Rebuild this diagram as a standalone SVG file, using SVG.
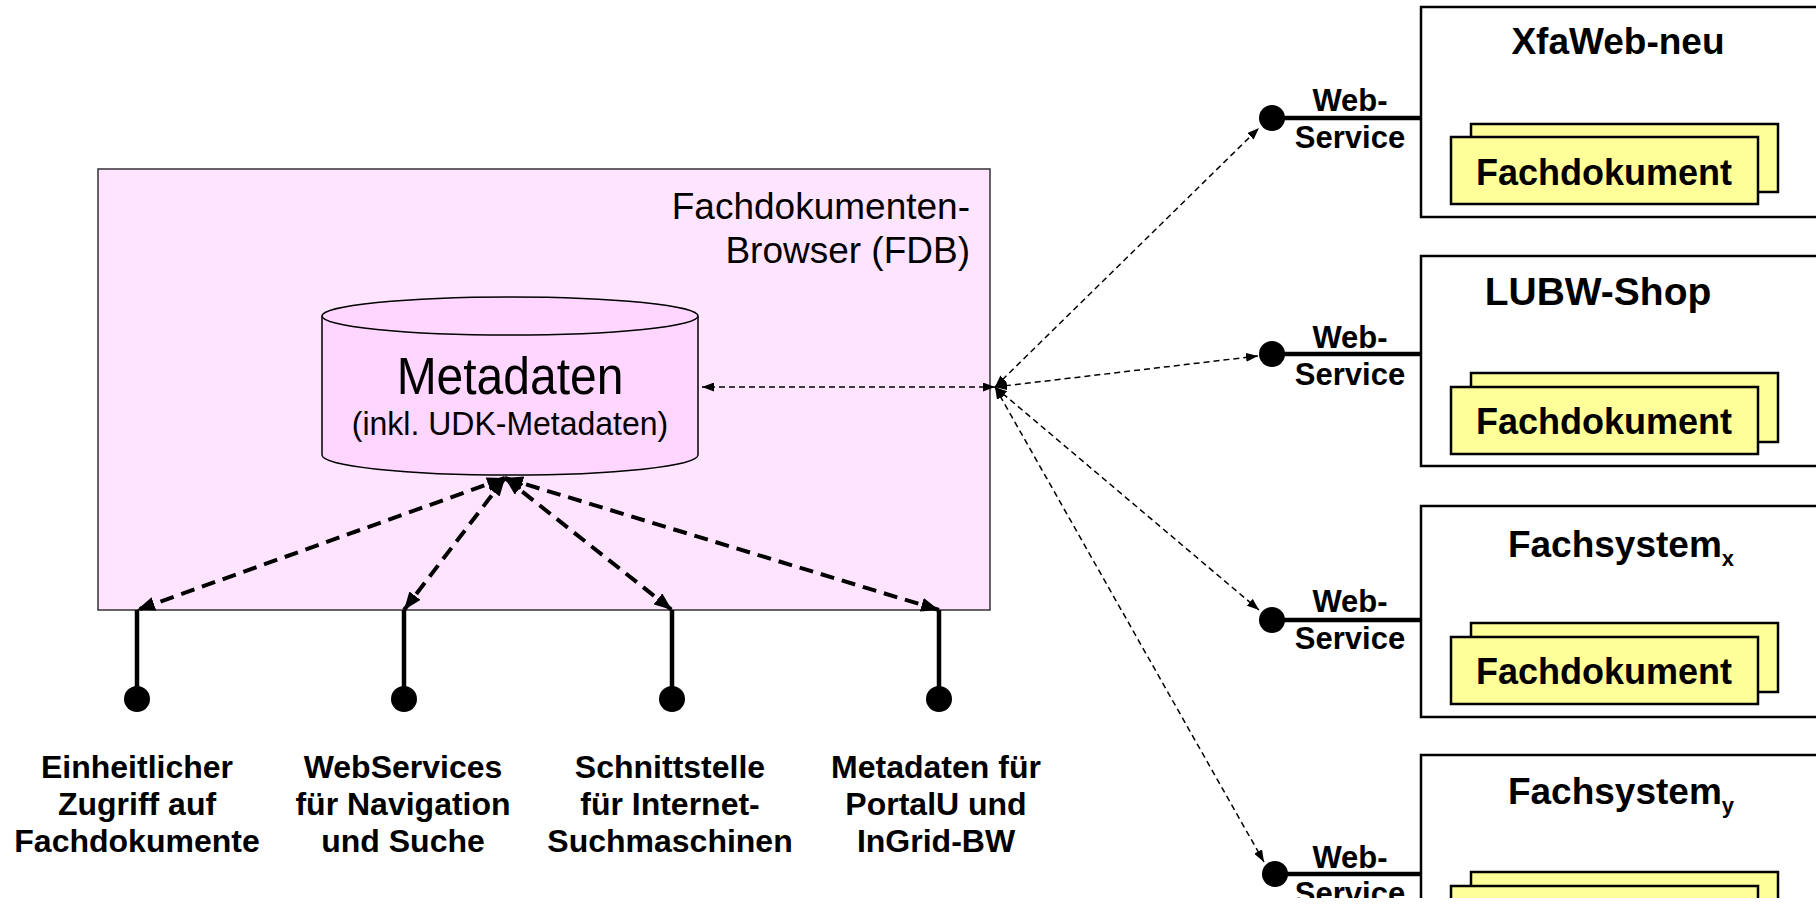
<svg xmlns="http://www.w3.org/2000/svg" width="1816" height="908" viewBox="0 0 1816 908">
<defs>
<style>
.t{font-family:"Liberation Sans",Arial,sans-serif;fill:#000}
.b{font-weight:bold}
.sys{fill:#fff;stroke:#000;stroke-width:2.5}
.doc{fill:#ffff99;stroke:#000;stroke-width:2.5}
.ws{stroke:#000;stroke-width:4.5;fill:none}
.thin{stroke:#000;stroke-width:1.5;stroke-dasharray:6 4;fill:none}
.bold{stroke:#000;stroke-width:4;stroke-dasharray:14 8;fill:none}
</style>
<marker id="ah" markerUnits="userSpaceOnUse" viewBox="0 0 12 9" refX="12" refY="4.5" markerWidth="12" markerHeight="9" orient="auto-start-reverse"><path d="M0,0 L12,4.5 L0,9 z" fill="#000"/></marker>
<marker id="ahb" markerUnits="userSpaceOnUse" viewBox="0 0 18 14" refX="18" refY="7" markerWidth="18" markerHeight="14" orient="auto-start-reverse"><path d="M0,0 L18,7 L0,14 z" fill="#000"/></marker>
<clipPath id="clip"><rect x="0" y="0" width="1816" height="898"/></clipPath>
</defs>
<rect x="0" y="0" width="1816" height="908" fill="#fff"/>
<g clip-path="url(#clip)">
<g id="fdb">
<rect x="98" y="169" width="892" height="441" fill="#ffe4ff" stroke="#333" stroke-width="1.5"/>
<text class="t" x="970" y="219" font-size="37" text-anchor="end">Fachdokumenten-</text>
<text class="t" x="970" y="263" font-size="37" text-anchor="end">Browser (FDB)</text>
</g>
<g id="metadaten">
<path d="M322,316 L322,455 A188,20 0 0 0 698,455 L698,316" fill="#ffd6ff" stroke="#000" stroke-width="1.5"/>
<ellipse cx="510" cy="316" rx="188" ry="19" fill="#ffd6ff" stroke="#000" stroke-width="1.5"/>
<text class="t" transform="translate(510,394) scale(1,1.08)" x="0" y="0" font-size="48" text-anchor="middle">Metadaten</text>
<text class="t" transform="translate(510,435) scale(1,1.05)" x="0" y="0" font-size="32" text-anchor="middle">(inkl. UDK-Metadaten)</text>
</g>
<g id="if1"><line class="ws" x1="137" y1="610" x2="137" y2="699"/><circle cx="137" cy="699" r="13"/>
<text class="t b" font-size="32" text-anchor="middle"><tspan x="137" y="778">Einheitlicher</tspan><tspan x="137" y="815">Zugriff auf</tspan><tspan x="137" y="852">Fachdokumente</tspan></text></g>
<g id="if2"><line class="ws" x1="404" y1="610" x2="404" y2="699"/><circle cx="404" cy="699" r="13"/>
<text class="t b" font-size="32" text-anchor="middle"><tspan x="403" y="778">WebServices</tspan><tspan x="403" y="815">für Navigation</tspan><tspan x="403" y="852">und Suche</tspan></text></g>
<g id="if3"><line class="ws" x1="672" y1="610" x2="672" y2="699"/><circle cx="672" cy="699" r="13"/>
<text class="t b" font-size="32" text-anchor="middle"><tspan x="670" y="778">Schnittstelle</tspan><tspan x="670" y="815">für Internet-</tspan><tspan x="670" y="852">Suchmaschinen</tspan></text></g>
<g id="if4"><line class="ws" x1="939" y1="610" x2="939" y2="699"/><circle cx="939" cy="699" r="13"/>
<text class="t b" font-size="32" text-anchor="middle"><tspan x="936" y="778">Metadaten für</tspan><tspan x="936" y="815">PortalU und</tspan><tspan x="936" y="852">InGrid-BW</tspan></text></g>

<g id="sys1">
<rect class="sys" x="1421" y="7" width="420" height="210"/>
<text class="t b" x="1618" y="54" font-size="37" text-anchor="middle">XfaWeb-neu</text>
<rect class="doc" x="1471" y="124" width="307" height="68"/>
<rect class="doc" x="1451" y="137" width="307" height="67"/>
<text class="t b" x="1604" y="185" font-size="36" text-anchor="middle">Fachdokument</text>
<line class="ws" x1="1272" y1="118" x2="1421" y2="118"/><circle cx="1272" cy="118" r="13"/>
<text class="t b" x="1350" y="111" font-size="31" text-anchor="middle">Web-</text>
<text class="t b" x="1350" y="148" font-size="31" text-anchor="middle">Service</text>
</g>
<g id="sys2">
<rect class="sys" x="1421" y="256" width="420" height="210"/>
<text class="t b" x="1598" y="305" font-size="39" text-anchor="middle">LUBW-Shop</text>
<rect class="doc" x="1471" y="373" width="307" height="69"/>
<rect class="doc" x="1451" y="387" width="307" height="67"/>
<text class="t b" x="1604" y="434" font-size="36" text-anchor="middle">Fachdokument</text>
<line class="ws" x1="1272" y1="354" x2="1421" y2="354"/><circle cx="1272" cy="354" r="13"/>
<text class="t b" x="1350" y="348" font-size="31" text-anchor="middle">Web-</text>
<text class="t b" x="1350" y="385" font-size="31" text-anchor="middle">Service</text>
</g>
<g id="sys3">
<rect class="sys" x="1421" y="506" width="420" height="211"/>
<text class="t b" x="1621" y="557" font-size="37" text-anchor="middle">Fachsystem<tspan font-size="22" dy="9">x</tspan></text>
<rect class="doc" x="1471" y="623" width="307" height="69"/>
<rect class="doc" x="1451" y="637" width="307" height="67"/>
<text class="t b" x="1604" y="684" font-size="36" text-anchor="middle">Fachdokument</text>
<line class="ws" x1="1272" y1="620" x2="1421" y2="620"/><circle cx="1272" cy="620" r="13"/>
<text class="t b" x="1350" y="612" font-size="31" text-anchor="middle">Web-</text>
<text class="t b" x="1350" y="649" font-size="31" text-anchor="middle">Service</text>
</g>
<g id="sys4">
<rect class="sys" x="1421" y="755" width="420" height="210"/>
<text class="t b" x="1621" y="804" font-size="37" text-anchor="middle">Fachsystem<tspan font-size="22" dy="9">y</tspan></text>
<rect class="doc" x="1471" y="872" width="307" height="69"/>
<rect class="doc" x="1451" y="886" width="307" height="67"/>
<line class="ws" x1="1275" y1="874" x2="1421" y2="874"/><circle cx="1275" cy="874" r="13"/>
<text class="t b" x="1350" y="868" font-size="31" text-anchor="middle">Web-</text>
<text class="t b" x="1350" y="904" font-size="31" text-anchor="middle">Service</text>
</g>

<g id="connectors">
<line class="thin" x1="995" y1="387" x2="702" y2="387" marker-start="url(#ah)" marker-end="url(#ah)"/>
<line class="thin" x1="995" y1="387" x2="1259" y2="128" marker-start="url(#ah)" marker-end="url(#ah)"/>
<line class="thin" x1="995" y1="387" x2="1258" y2="356" marker-start="url(#ah)" marker-end="url(#ah)"/>
<line class="thin" x1="995" y1="387" x2="1259" y2="610" marker-start="url(#ah)" marker-end="url(#ah)"/>
<line class="thin" x1="995" y1="387" x2="1264" y2="862" marker-start="url(#ah)" marker-end="url(#ah)"/>
<line class="bold" x1="505" y1="478" x2="137" y2="610" marker-start="url(#ahb)" marker-end="url(#ahb)"/>
<line class="bold" x1="505" y1="478" x2="404" y2="610" marker-start="url(#ahb)" marker-end="url(#ahb)"/>
<line class="bold" x1="505" y1="478" x2="672" y2="610" marker-start="url(#ahb)" marker-end="url(#ahb)"/>
<line class="bold" x1="505" y1="478" x2="939" y2="610" marker-start="url(#ahb)" marker-end="url(#ahb)"/>
</g>
</g>
</svg>
